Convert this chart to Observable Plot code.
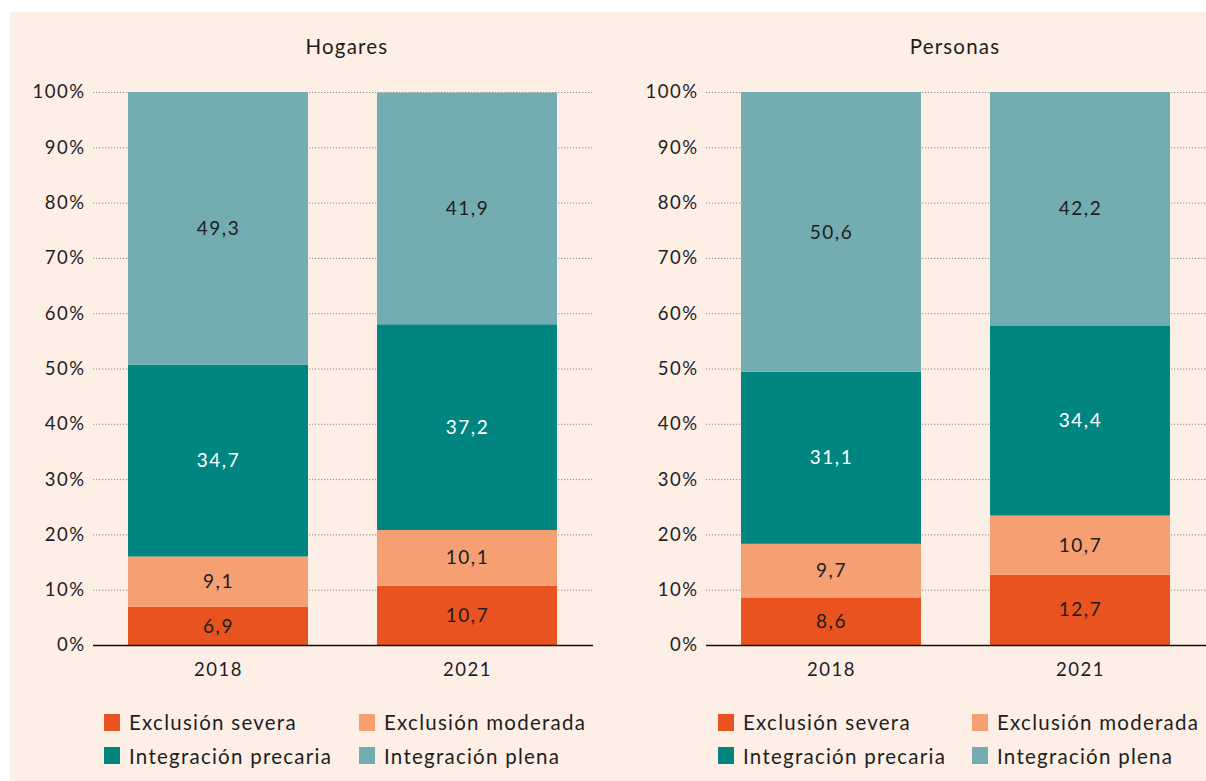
<!DOCTYPE html>
<html><head><meta charset="utf-8">
<script src="https://cdn.jsdelivr.net/npm/d3@7"></script>
<script src="https://cdn.jsdelivr.net/npm/@observablehq/plot@0.6"></script>
<style>
html,body{margin:0;padding:0;background:#fff;font-family:Lato,"Open Sans",sans-serif;color:#1e1e1e;}
#bg{position:absolute;left:10px;top:12px;width:1196px;height:769px;background:#fdeee6;overflow:hidden;}
.panel{position:absolute;top:0;height:769px;}
.title{position:absolute;top:22px;transform:translateX(-50%);font-size:20.5px;white-space:nowrap;letter-spacing:1.2px;}
.svgwrap{position:absolute;top:58px;left:0;}
.sw{position:absolute;width:16px;height:17px;}
.lt{position:absolute;font-size:20.5px;white-space:nowrap;line-height:24px;letter-spacing:1.25px;}
svg text{letter-spacing:1.5px;}
</style>
</head><body>
<div id="bg"></div>
<script>
const categories = ["Exclusión severa", "Exclusión moderada", "Integración precaria", "Integración plena"];
const colors = ["#e8531f", "#f59f72", "#008581", "#74adb1"];
const years = ["2018", "2021"];
const panels = ["Hogares", "Personas"];
// values per year, ordered as categories
const hogares2018 = [6.9, 9.1, 34.7, 49.3];
const hogares2021 = [10.7, 10.1, 37.2, 41.9];
const personas2018 = [8.6, 9.7, 31.1, 50.6];
const personas2021 = [12.7, 10.7, 34.4, 42.2];
const yTicks = [0, 10, 20, 30, 40, 50, 60, 70, 80, 90, 100];

const series = {
  Hogares: [hogares2018, hogares2021],
  Personas: [personas2018, personas2021]
};

const layout = {
  Hogares: {left: 0, width: 593, marginLeft: 83, marginRight: 10, titleX: 337, legX: [94, 349]},
  Personas: {left: 593, width: 603, marginLeft: 103, marginRight: 0, titleX: 352, legX: [115, 369]}
};

const bg = document.getElementById("bg");
const fmt = v => v.toFixed(1).replace(".", ",");

for (const p of panels) {
  const L = layout[p];
  const rows = [];
  years.forEach((yr, i) => categories.forEach((c, j) => rows.push({year: yr, cat: c, value: series[p][i][j]})));

  const panel = document.createElement("div");
  panel.className = "panel";
  panel.style.left = L.left + "px";
  panel.style.width = L.width + "px";
  bg.appendChild(panel);

  const t = document.createElement("div");
  t.className = "title";
  t.style.left = L.titleX + "px";
  t.textContent = p;
  panel.appendChild(t);

  const chart = Plot.plot({
    width: L.width,
    height: 615,
    marginLeft: L.marginLeft,
    marginRight: L.marginRight,
    marginTop: 22,
    marginBottom: 40,
    style: {background: "transparent", fontFamily: "Lato, sans-serif", fontSize: "18.5px", color: "#1e1e1e", overflow: "visible"},
    x: {domain: years, paddingInner: 0.277, paddingOuter: 0.142, label: null, tickSize: 0, tickPadding: 17},
    y: {domain: [0, 100], ticks: yTicks, tickFormat: d => d + "%", label: null, tickSize: 0, tickPadding: 8},
    color: {domain: categories, range: colors},
    marks: [
      Plot.ruleY(yTicks, {stroke: "#8a8a8a", strokeDasharray: "1.2,1.8", strokeWidth: 1}),
      Plot.barY(rows, {x: "year", y: "value", z: "cat", fill: "cat"}),
      Plot.text(rows, Plot.stackY({x: "year", y: "value", z: "cat", text: d => fmt(d.value),
        fill: d => d.cat === "Integración precaria" ? "#ffffff" : "#1e1e1e", fontSize: 19})),
      Plot.ruleY([0], {stroke: "#111", strokeWidth: 1.6})
    ]
  });
  const wrap = document.createElement("div");
  wrap.className = "svgwrap";
  wrap.appendChild(chart);
  panel.appendChild(wrap);

  categories.forEach((c, j) => {
    const col = j % 2, row = Math.floor(j / 2);
    const cy = 710 + row * 33.5;
    const sw = document.createElement("div");
    sw.className = "sw";
    sw.style.left = L.legX[col] + "px";
    sw.style.top = (cy - 8.5) + "px";
    sw.style.background = colors[j];
    panel.appendChild(sw);
    const lt = document.createElement("div");
    lt.className = "lt";
    lt.style.left = (L.legX[col] + 25) + "px";
    lt.style.top = (cy - 12) + "px";
    lt.textContent = c;
    panel.appendChild(lt);
  });
}
</script>
</body></html>
